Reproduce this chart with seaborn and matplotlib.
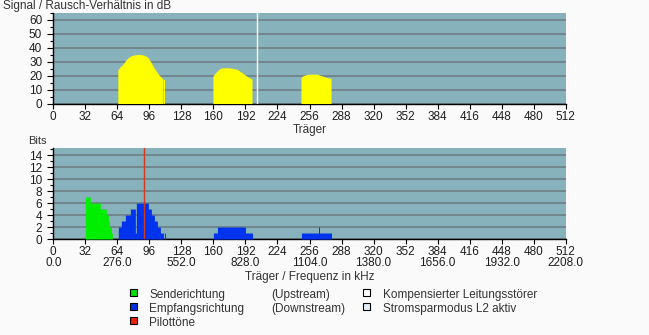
import numpy as np
import matplotlib
matplotlib.use("Agg")
import matplotlib.pyplot as plt
from matplotlib.patches import Rectangle
from matplotlib.ticker import MultipleLocator
import pandas as pd
import seaborn as sns

# ---------------- data ----------------
# SNR outline (carrier, dB); NaN separates the three bands
snr_carrier = [65, 67, 70, 72, 75, 78, 80, 84, 88, 91, 94, 96, 98, 100, 102, 104, 106, 108, 110,
               np.nan, 111, 112,
               np.nan, 160, 162, 164, 167, 170, 176, 180, 184, 186, 188, 190, 192, 194, 196, 199,
               np.nan, 248, 251, 254, 258, 264, 266, 270, 274, 278]
snr_db = [24, 26, 28, 30, 32.5, 34, 34.5, 35, 35, 34.5, 33.5, 32, 29.5, 27, 24.5, 22.5, 20.5, 19, 17.5,
          np.nan, 17, 17,
          np.nan, 19.5, 21.5, 23, 25, 25.5, 25.5, 25, 24.5, 23.5, 22.5, 21.5, 20.5, 19.5, 18.5, 17.5,
          np.nan, 19, 20, 20.8, 21, 21, 20.5, 19.5, 18.5, 18]
marker_carrier = 204          # white line in SNR chart

# Bits per carrier, upstream (green)
up_carriers = list(range(32, 59))
up_bits = [7, 7, 7, 7, 7,
           6, 6, 6, 6, 6, 6, 6, 6, 6, 6,
           5, 5, 5, 5, 5, 5,
           4, 4, 3, 2, 2, 1]

# Bits per carrier, downstream (blue)
down_carriers = (list(range(65, 110)) + [111] + list(range(160, 199)) + list(range(248, 278)))
down_bits = ([2, 2, 2, 3, 3, 3, 3, 4, 4, 4, 4, 4, 5, 5, 5, 5, 5, 1,
              6, 6, 6, 6, 6, 6, 6, 6, 6, 6, 6, 6,
              5, 5, 5, 4, 4, 4, 3, 3, 3, 2, 2, 2, 1, 1, 1]
             + [1]
             + [1, 1, 1, 1] + [2] * 28 + [1] * 7
             + [1] * 17 + [2] + [1] * 12)

pilot_carrier = 91
khz_per_carrier = 4.3125

x_ticks = list(range(0, 513, 32))

# ---------------- style ----------------
sns.set_theme(style="white")
plt.rcParams['font.family'] = ['Liberation Sans', 'DejaVu Sans']
FS = 8.5
plt.rcParams['font.size'] = FS

BG = "#87b1bb"
GRID = "#6c7b80"
TXT = "#1e1e1e"
TXT2 = "#333333"

fig = plt.figure(figsize=(6.49, 3.35), dpi=100)
fig.patch.set_facecolor("#fafafa")

W, H = 649, 335
def ax_rect(l, t, r, b):
    return [l / W, 1 - b / H, (r - l) / W, (b - t) / H]

ax1 = fig.add_axes(ax_rect(53.3, 13, 565.7, 104))
ax2 = fig.add_axes(ax_rect(53.3, 148, 565.7, 239))

def style_axes(ax, ymax, ymaj):
    ax.set_facecolor(BG)
    ax.set_xlim(0, 512)
    ax.set_ylim(0, ymax)
    for s in ["top", "right"]:
        ax.spines[s].set_visible(False)
    for s in ["left", "bottom"]:
        ax.spines[s].set_color("black")
        ax.spines[s].set_linewidth(1.0)
    ax.set_axisbelow(True)
    ax.yaxis.set_major_locator(MultipleLocator(ymaj))
    ax.yaxis.set_minor_locator(MultipleLocator(ymaj / 2))
    ax.yaxis.grid(True, which="major", color=GRID, linewidth=1.1)
    ax.xaxis.grid(False)
    ax.tick_params(axis="y", which="major", direction="out", length=4, width=0.8,
                   color="black", labelsize=FS, labelcolor=TXT, pad=4, left=True)
    ax.tick_params(axis="y", which="minor", direction="out", length=2.5, width=0.8,
                   color="black", left=True)
    ax.tick_params(axis="x", which="major", direction="out", length=3.5, width=0.8,
                   color="black", labelsize=FS, labelcolor=TXT, pad=1.5, bottom=True)

# ---------------- SNR chart ----------------
style_axes(ax1, 65, 10)
sx = np.array(snr_carrier, dtype=float)
sy = np.array(snr_db, dtype=float)
ax1.fill_between(sx, 0, sy, color="#ffff00", linewidth=0, zorder=3)
ax1.axvline(marker_carrier, color="white", linewidth=1.0, zorder=4)
ax1.set_xticks(x_ticks)
ax1.set_xticklabels([str(t) for t in x_ticks])
ax1.set_xlabel("Träger", fontsize=FS, color=TXT2, labelpad=0.5)
ax1.set_ylabel("")

# ---------------- Bits chart ----------------
style_axes(ax2, 15.2, 2)
up_df = pd.DataFrame({"pos": np.array(up_carriers) + 0.5, "bits": up_bits})
down_df = pd.DataFrame({"pos": np.array(down_carriers) + 0.5, "bits": down_bits})
sns.histplot(data=up_df, x="pos", weights="bits", binwidth=1, binrange=(0, 512), element="step",
             fill=True, color="#00ee00", alpha=1, linewidth=0, ax=ax2, zorder=3)
sns.histplot(data=down_df, x="pos", weights="bits", binwidth=1, binrange=(0, 512), element="step",
             fill=True, color="#0033ee", alpha=1, linewidth=0, ax=ax2, zorder=3)
ax2.axvline(pilot_carrier, color="#d23a1e", linewidth=1.0, zorder=4)
ax2.set_xlim(0, 512)
ax2.set_ylim(0, 15.2)
ax2.set_xticks(x_ticks)
ax2.set_xticklabels([f"{t}\n{t * khz_per_carrier:.1f}" if t % 64 == 0 else str(t) for t in x_ticks],
                    linespacing=0.95)
ax2.set_xlabel("Träger / Frequenz in kHz", fontsize=FS, color=TXT2, labelpad=1)
ax2.set_ylabel("")

# ---------------- titles ----------------
fig.text(3 / W, 1 - 6 / H, "Signal / Rausch-Verhältnis in dB", fontsize=FS, color=TXT2,
         ha="left", va="center")
fig.text(28 / W, 1 - 141 / H, "Bits", fontsize=FS - 0.5, color=TXT2, ha="left", va="center")

# ---------------- legend ----------------
def legend_box(x, y, color):
    fig.patches.append(Rectangle((x / W, 1 - (y + 4) / H), 7 / W, 7 / H, transform=fig.transFigure,
                                 facecolor=color, edgecolor="black", linewidth=0.8))

rows = [295, 309, 323]
legend_box(130, rows[0] - 3.5, "#00dd00")
legend_box(130, rows[1] - 3.5, "#0033dd")
legend_box(130, rows[2] - 3.5, "#ee2200")
LFS = FS
fig.text(149 / W, 1 - rows[0] / H, "Senderichtung", fontsize=LFS, color=TXT2, va="center")
fig.text(149 / W, 1 - rows[1] / H, "Empfangsrichtung", fontsize=LFS, color=TXT2, va="center")
fig.text(149 / W, 1 - rows[2] / H, "Pilottöne", fontsize=LFS, color=TXT2, va="center")
fig.text(271 / W, 1 - rows[0] / H, "(Upstream)", fontsize=LFS, color=TXT2, va="center")
fig.text(271 / W, 1 - rows[1] / H, "(Downstream)", fontsize=LFS, color=TXT2, va="center")
legend_box(363, rows[0] - 3.5, "#ffffff")
legend_box(363, rows[1] - 3.5, "#dff0f8")
fig.text(383 / W, 1 - rows[0] / H, "Kompensierter Leitungsstörer", fontsize=LFS, color=TXT2, va="center")
fig.text(383 / W, 1 - rows[1] / H, "Stromsparmodus L2 aktiv", fontsize=LFS, color=TXT2, va="center")

fig.savefig("out.png", dpi=100, facecolor=fig.get_facecolor())
